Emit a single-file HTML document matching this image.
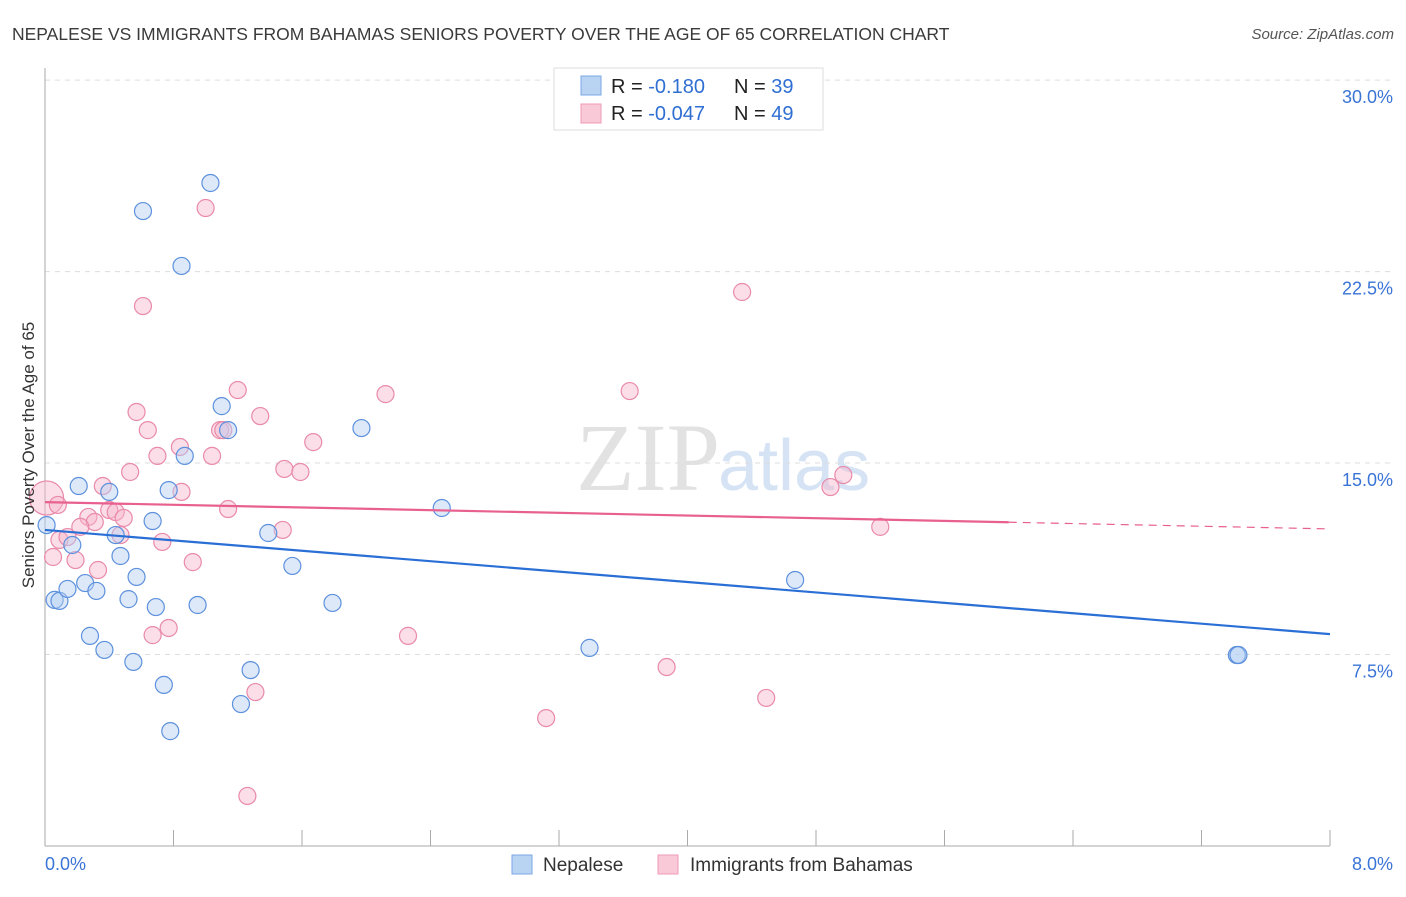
<!DOCTYPE html>
<html><head><meta charset="utf-8"><style>
body{margin:0;background:#fff;font-family:"Liberation Sans",sans-serif}
</style></head><body>
<svg width="1406" height="892" xmlns="http://www.w3.org/2000/svg" id="svg" font-family="Liberation Sans, sans-serif">
<text x="12" y="40" font-size="17.5" fill="#3a3a3a">NEPALESE VS IMMIGRANTS FROM BAHAMAS SENIORS POVERTY OVER THE AGE OF 65 CORRELATION CHART</text>
<text x="1394" y="39" font-size="15" fill="#555" font-style="italic" text-anchor="end">Source: ZipAtlas.com</text>
<text x="720" y="490" font-size="96" fill="#e2e2e2" text-anchor="end" font-family="Liberation Serif, serif">ZIP</text>
<text x="718" y="490" font-size="72" fill="#d5e3f5">atlas</text>
<g id="grid"></g><g id="axes"></g><g id="marks"></g>
<text transform="translate(34,455) rotate(-90)" font-size="17" fill="#333" text-anchor="middle">Seniors Poverty Over the Age of 65</text>
<g>
<rect x="554" y="68" width="269" height="62" fill="#fff" stroke="#ddd"/>
<rect x="581" y="76" width="20" height="19" fill="#b9d3f3" stroke="#7aa7e6"/>
<rect x="581" y="104" width="20" height="19" fill="#f9c9d8" stroke="#ee9ab6"/>
<text x="611" y="93" font-size="20" fill="#222">R = <tspan fill="#2f6fd3">-0.180</tspan></text>
<text x="734" y="93" font-size="20" fill="#222">N = <tspan fill="#2f6fd3">39</tspan></text>
<text x="611" y="120" font-size="20" fill="#222">R = <tspan fill="#2f6fd3">-0.047</tspan></text>
<text x="734" y="120" font-size="20" fill="#222">N = <tspan fill="#2f6fd3">49</tspan></text>
</g>
<g>
<rect x="512" y="855" width="20" height="19" fill="#b9d3f3" stroke="#7aa7e6"/>
<text x="543" y="871" font-size="19" fill="#333">Nepalese</text>
<rect x="658" y="855" width="20" height="19" fill="#f9c9d8" stroke="#ee9ab6"/>
<text x="690" y="871" font-size="19" fill="#333">Immigrants from Bahamas</text>
</g>
</svg>
<script>
const yTicks=[7.5,15,22.5,30];
const yTickLabels=["7.5%","15.0%","22.5%","30.0%"];
const xTickLabels=["0.0%","8.0%"];
const blueX=[.01,.61,1.03,.85,1.10,1.14,1.97,.87,.77,.21,.40,.67,.44,.17,.47,1.39,2.47,.57,1.54,4.67,.06,.09,.14,.25,.32,.52,.69,.95,1.79,.28,.37,.55,.74,1.28,1.22,.78,3.39,7.42,7.43];
const blueY=[12.57,24.87,25.97,22.72,17.23,16.29,16.37,15.28,13.94,14.10,13.87,12.73,12.18,11.79,11.36,12.26,13.24,10.54,10.97,10.42,9.64,9.60,10.07,10.30,9.99,9.67,9.36,9.44,9.52,8.23,7.68,7.21,6.31,6.89,5.56,4.50,7.76,7.48,7.48];
const pinkX=[.01,.08,.09,.05,.19,.14,.27,.31,.40,.44,.49,.33,.22,.47,.36,.53,.57,.64,.70,.85,.73,.92,.67,.77,.61,1.00,.84,1.04,1.09,1.11,1.14,1.20,1.34,1.49,1.59,1.67,1.48,1.31,1.26,2.12,2.26,3.64,3.12,3.87,4.34,4.49,4.89,4.97,5.20];
const pinkY=[13.63,13.36,11.99,11.32,11.20,12.10,12.89,12.69,13.16,13.08,12.85,10.81,12.50,12.18,14.10,14.65,17.00,16.29,15.28,13.87,11.91,11.12,8.26,8.54,21.15,24.99,15.63,15.28,16.29,16.29,13.20,17.86,16.84,14.77,14.65,15.82,12.38,6.03,1.96,17.70,8.23,17.82,5.01,7.01,21.70,5.80,14.06,14.53,12.50];
const blueTrend=[12.38,8.30];
const pinkTrend=[13.47,12.42];
const pinkSolidEnd=6.0;
const NS="http://www.w3.org/2000/svg";
const X=v=>45+v/8*1285, Y=v=>846-v*25.53;
function mk(t,a,p){const e=document.createElementNS(NS,t);for(const k in a)e.setAttribute(k,a[k]);p.appendChild(e);return e;}
const grid=document.getElementById('grid'),axes=document.getElementById('axes'),marks=document.getElementById('marks');
yTicks.forEach((t,i)=>{
 const l=mk('line',{x1:45,x2:1393,y1:Y(t),y2:Y(t),stroke:'#ddd','stroke-dasharray':'5,5'},grid);
 
 
 const tx=mk('text',{x:1393,y:Y(t)+23,'text-anchor':'end','font-size':18,fill:'#3a74d6'},axes);
 tx.textContent=yTickLabels[i];
 
 
});
const ax=mk('line',{x1:45,x2:45,y1:68,y2:846,stroke:'#aaa'},axes);


const bx=mk('line',{x1:45,x2:1330,y1:846,y2:846,stroke:'#aaa'},axes);


for(let i=0;i<=10;i++){const t=mk('line',{x1:X(i*0.8),x2:X(i*0.8),y1:830,y2:846,stroke:'#aaa'},axes);
 
 }
[[0,'start',45],[8,'end',1393]].forEach((d,i)=>{const t=mk('text',{x:d[2],y:870,'text-anchor':d[1],'font-size':18,fill:'#3a74d6'},axes);t.textContent=xTickLabels[i];
 
 });
function dots(xs,ys,fill,stroke,name){xs.forEach((x,i)=>{const c=mk('circle',{cx:X(x),cy:Y(ys[i]),r:(name==='point-bahamas'&&i===0)?17:8.5,fill:fill,'fill-opacity':0.45,stroke:stroke,'stroke-width':1.2},marks);
 
 });}
dots(pinkX,pinkY,'#f7b6cb','#e98aaa','point-bahamas');
dots(blueX,blueY,'#b3cff2','#5d91dd','point-nepalese');
const bl=mk('line',{x1:X(0),y1:Y(blueTrend[0]),x2:X(8),y2:Y(blueTrend[1]),stroke:'#2a6fd6','stroke-width':2.2},marks);


const pm=pinkTrend[0]+(pinkTrend[1]-pinkTrend[0])*pinkSolidEnd/8;
const pl=mk('line',{x1:X(0),y1:Y(pinkTrend[0]),x2:X(pinkSolidEnd),y2:Y(pm),stroke:'#e8608f','stroke-width':2.2},marks);


const pd=mk('line',{x1:X(pinkSolidEnd),y1:Y(pm),x2:X(8),y2:Y(pinkTrend[1]),stroke:'#e8608f','stroke-width':1.2,'stroke-dasharray':'8,6'},marks);


</script>
</body></html>
